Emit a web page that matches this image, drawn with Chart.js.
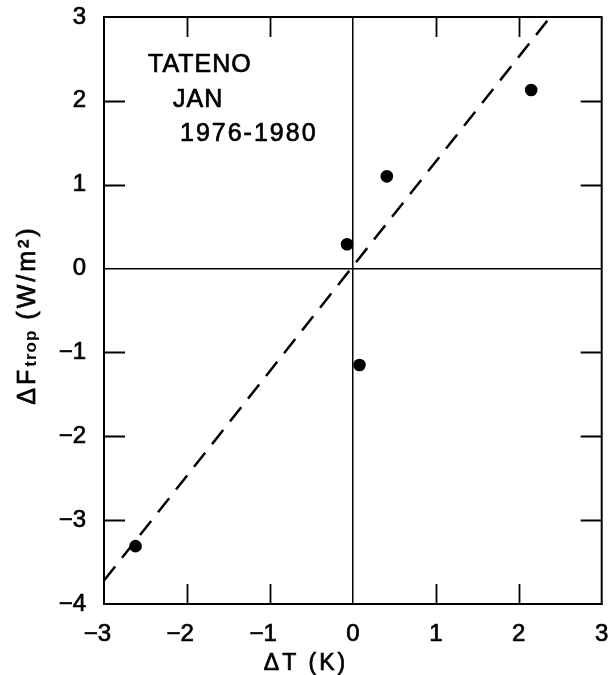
<!DOCTYPE html>
<html>
<head>
<meta charset="utf-8">
<script src="https://cdn.jsdelivr.net/npm/chart.js@4.4.1/dist/chart.umd.min.js"></script>
<style>
  body { margin: 0; background: #fff; }
  canvas { display: block; }
</style>
</head>
<body>
<canvas id="myChart" width="608" height="675"></canvas>
<script>
// observed points (dT, dF)
let pointsX = [-2.62, -0.07, 0.08, 0.41, 2.15];
let pointsY = [-3.31, 0.29, -1.15, 1.10, 2.13];

// dashed regression line end points
let fitX = [-3, 2.38];
let fitY = [-3.72, 3];

let xTicks = [-3, -2, -1, 0, 1, 2, 3];
let yTicks = [-4, -3, -2, -1, 0, 1, 2, 3];

let noteLines = ['TATENO', 'JAN', '1976-1980'];

const FONT = '"Liberation Sans", Arial, Helvetica, sans-serif';
const HEAVY = 0.7; // slight stroke so the text looks as heavy as the scan

function toPts(xs, ys) {
    return xs.map((x, i) => ({ x: x, y: ys[i] }));
}

function heavyText(ctx, s, x, y) {
    ctx.fillText(s, x, y);
    ctx.strokeText(s, x, y);
}

// frame, inward ticks, note and axis titles
const decor = {
    id: 'decor',
    afterDraw(chart) {
        const ctx = chart.ctx;
        const a = chart.chartArea;
        const sx = chart.scales.x;
        const sy = chart.scales.y;
        ctx.save();
        ctx.strokeStyle = '#000';
        ctx.lineWidth = 2;
        ctx.strokeRect(a.left, a.top, a.right - a.left, a.bottom - a.top);

        ctx.lineWidth = 1.8;
        ctx.beginPath();
        xTicks.forEach(v => {
            if (v === 0 || v === sx.min || v === sx.max) return;
            const px = Math.round(sx.getPixelForValue(v)) + 0.5;
            ctx.moveTo(px, a.bottom); ctx.lineTo(px, a.bottom - 20);
            ctx.moveTo(px, a.top); ctx.lineTo(px, a.top + 20);
        });
        yTicks.forEach(v => {
            if (v === 0 || v === sy.min || v === sy.max) return;
            const py = Math.round(sy.getPixelForValue(v)) + 0.5;
            ctx.moveTo(a.left, py); ctx.lineTo(a.left + 21, py);
            ctx.moveTo(a.right, py); ctx.lineTo(a.right - 21, py);
        });
        ctx.stroke();

        // note in upper left
        ctx.fillStyle = '#000';
        ctx.lineWidth = HEAVY;
        ctx.textBaseline = 'alphabetic';
        ctx.textAlign = 'left';
        ctx.font = '25px ' + FONT;
        ctx.letterSpacing = '1px';
        heavyText(ctx, noteLines[0], 148, 72);
        heavyText(ctx, noteLines[1], 173, 107);
        ctx.letterSpacing = '2px';
        heavyText(ctx, noteLines[2], 180, 141);

        // x title
        ctx.font = '23px ' + FONT;
        ctx.letterSpacing = '3px';
        ctx.textAlign = 'center';
        heavyText(ctx, 'ΔT (K)', 306, 670);

        // y title, rotated, with subscript
        ctx.translate(35, 315);
        ctx.rotate(-Math.PI / 2);
        ctx.textAlign = 'left';
        const mainFont = '25px ' + FONT;
        const subFont = 'bold 17px ' + FONT;
        ctx.letterSpacing = '3px';
        ctx.font = mainFont;
        const w1 = ctx.measureText('ΔF').width;
        const w3 = ctx.measureText(' (W/m²)').width;
        ctx.font = subFont;
        ctx.letterSpacing = '1px';
        const w2 = ctx.measureText('trop').width;
        let x0 = -(w1 + w2 + w3) / 2;
        ctx.font = mainFont;
        ctx.letterSpacing = '3px';
        heavyText(ctx, 'ΔF', x0, 0);
        ctx.font = subFont;
        ctx.letterSpacing = '1px';
        ctx.fillText('trop', x0 + w1, 1);
        ctx.font = mainFont;
        ctx.letterSpacing = '3px';
        heavyText(ctx, ' (W/m²)', x0 + w1 + w2, 0);
        ctx.restore();
    }
};

function zeroLine(c) {
    return c.tick && c.tick.value === 0 ? '#000' : 'rgba(0,0,0,0)';
}

// minus sign hangs left of the digit, the digit sits on the tick
function xLabel(v) {
    return v < 0 ? '\u2212' + Math.abs(v) + '\u2007' : String(v);
}

let config = {
    type: 'scatter',
    data: {
        datasets: [{
            label: 'fit',
            data: toPts(fitX, fitY),
            showLine: true,
            borderColor: '#000',
            borderWidth: 2.5,
            borderDash: [18, 11],
            pointRadius: 0,
            order: 2
        }, {
            label: 'obs',
            data: toPts(pointsX, pointsY),
            backgroundColor: '#000',
            borderColor: '#000',
            borderWidth: 0,
            pointRadius: 6.3,
            order: 1
        }]
    },
    options: {
        responsive: false,
        animation: false,
        devicePixelRatio: 1,
        layout: { padding: { top: 17, right: 6, left: 0, bottom: 0 } },
        plugins: {
            legend: { display: false },
            tooltip: { enabled: false }
        },
        scales: {
            x: {
                type: 'linear',
                min: -3,
                max: 3,
                afterFit: s => { s.height = 71; s.paddingLeft = 0; s.paddingRight = 0; },
                afterBuildTicks: s => { s.ticks = xTicks.map(v => ({ value: v })); },
                ticks: {
                    color: '#000',
                    padding: 16,
                    font: { family: FONT, size: 24 },
                    textStrokeColor: '#000',
                    textStrokeWidth: HEAVY,
                    callback: xLabel
                },
                grid: { color: zeroLine, lineWidth: 1.5, drawTicks: false },
                border: { color: '#000', width: 2 }
            },
            y: {
                type: 'linear',
                min: -4,
                max: 3,
                afterFit: s => { s.width = 104; s.paddingTop = 0; s.paddingBottom = 0; },
                afterBuildTicks: s => { s.ticks = yTicks.map(v => ({ value: v })); },
                ticks: {
                    color: '#000',
                    padding: 18,
                    font: { family: FONT, size: 24 },
                    textStrokeColor: '#000',
                    textStrokeWidth: HEAVY,
                    callback: v => String(v).replace('-', '\u2212')
                },
                grid: { color: zeroLine, lineWidth: 1.5, drawTicks: false },
                border: { color: '#000', width: 2 }
            }
        }
    },
    plugins: [decor]
};

let myChart = new Chart(document.getElementById('myChart'), config);
</script>
</body>
</html>
